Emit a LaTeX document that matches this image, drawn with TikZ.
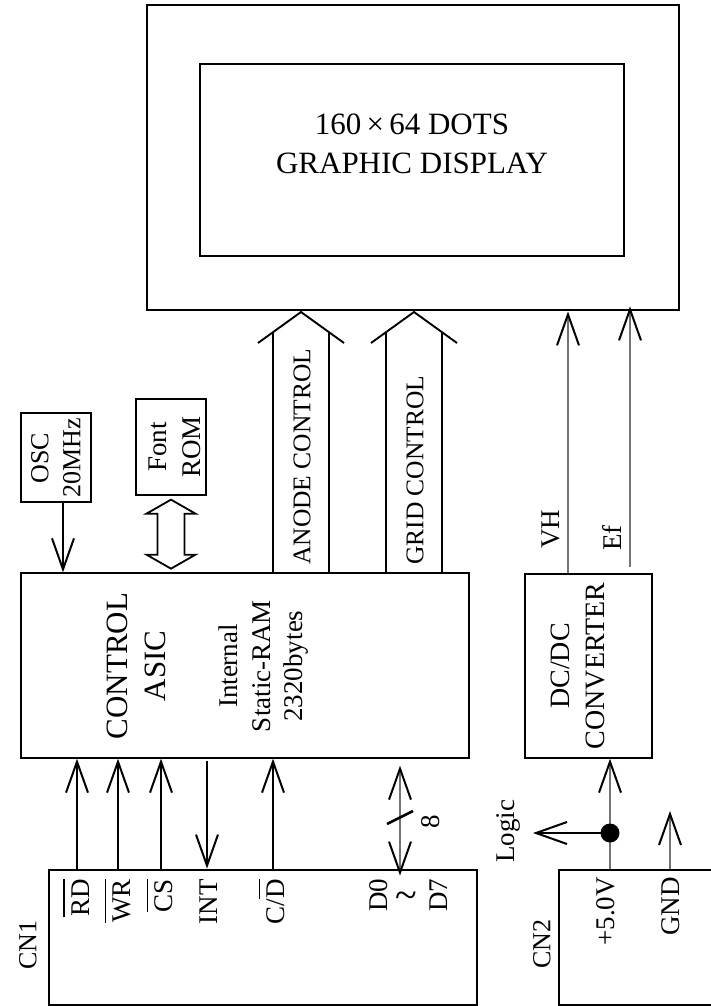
\documentclass[tikz,border=0pt]{standalone}
\usepackage{fontspec}
\setmainfont{Liberation Serif}
\usetikzlibrary{arrows.meta}
\newlength\olwid
\newcommand\olbar[1]{\settowidth{\olwid}{#1}\rlap{\rule[24.5pt]{\olwid}{1.7pt}}#1}
\begin{document}
\begin{tikzpicture}[x=1pt,y=-1pt,
  thinbox/.style={draw, line width=1.3pt, inner sep=0pt},
  midbox/.style={draw, line width=1.9pt, inner sep=0pt},
  heavybox/.style={draw, line width=2.8pt, inner sep=0pt},
  txt/.style={inner sep=0pt, align=center, font=\fontsize{27}{32}\selectfont},
  vtxt/.style={txt, rotate=90},
  tipbarb/.tip={Straight Barb[length=31pt,width=22pt,line width=2pt,color=black]},
  sig/.style={line width=1.8pt, -{tipbarb}},
  gsig/.style={line width=2.2pt, draw=black!55, -{tipbarb}},
  dbus/.style={line width=2.2pt, draw=black!55, {tipbarb}-{tipbarb}},
  busline/.style={line width=1.9pt},
  hollow/.style={line width=1.8pt, line join=miter},
]
\path[use as bounding box] (0,0) rectangle (710,1006);

% ---------- display ----------
\node[heavybox, minimum width=532pt, minimum height=305pt] (disp) at (413,157.5) {};
\node[midbox, minimum width=424pt, minimum height=192pt] (scr) at (412,160) {};
\node[txt, font=\fontsize{31}{39}\selectfont] (dtext) at (412,144) {160\,×\,64 DOTS\\GRAPHIC DISPLAY};

% ---------- control ASIC ----------
\node[thinbox, minimum width=448pt, minimum height=185pt] (asic) at (245,665.5) {};
\node[vtxt, font=\fontsize{31}{38}\selectfont] (asictxt) at (136,666) {CONTROL\\ASIC};
\node[vtxt, font=\fontsize{27}{32.5}\selectfont] (ramtxt) at (264,666) {Internal\\Static-RAM\\2320bytes};

% ---------- OSC and font ROM ----------
\node[thinbox, minimum width=70pt, minimum height=89pt] (osc) at (56,457.5) {};
\node[vtxt, font=\fontsize{26}{32}\selectfont] (osctxt) at (56,458) {OSC\\20MHz};
\node[thinbox, minimum width=70pt, minimum height=96pt] (rom) at (171,447) {};
\node[vtxt, font=\fontsize{27}{34}\selectfont] (romtxt) at (175,447) {Font\\ROM};

\draw[sig] ([xshift=7pt]osc.south) -- ([xshift=7pt]osc.south |- asic.north);
\draw[hollow] ([yshift=-4pt]rom.south) -- ++(24.5,14) -- ++(-11,0) -- ++(0,41) -- ++(11,0)
  -- ++(-24.5,14) -- ++(-24.5,-14) -- ++(11,0) -- ++(0,-41) -- ++(-11,0) -- cycle;

% ---------- anode / grid control buses ----------
\coordinate (atip) at (301,312);
\coordinate (aL) at (273,332.5);
\coordinate (aR) at (329,332.5);
\coordinate (gtip) at (414,312);
\coordinate (gL) at (386,332.5);
\coordinate (gR) at (442,332.5);
\draw[busline] (aL |- asic.north) -- (aL);
\draw[busline] (aR |- asic.north) -- (aR);
\draw[busline, line join=miter] ([shift={(-43,31)}]atip) -- (atip) -- ([shift={(43,31)}]atip);
\draw[busline] (gL |- asic.north) -- (gL);
\draw[busline] (gR |- asic.north) -- (gR);
\draw[busline, line join=miter] ([shift={(-43,31)}]gtip) -- (gtip) -- ([shift={(43,31)}]gtip);
\node[vtxt, font=\fontsize{25.5}{30}\selectfont, anchor=west] (anodetxt) at (302,565) {ANODE CONTROL};
\node[vtxt, font=\fontsize{25.5}{30}\selectfont, anchor=west] (gridtxt) at (415,565) {GRID CONTROL};

% ---------- CN1 ----------
\node[heavybox, minimum width=428pt, minimum height=135pt] (cn1) at (263,937.5) {};
\node[vtxt, font=\fontsize{26}{30}\selectfont] (cn1txt) at (28,945) {CN1};
\node[vtxt, anchor=east] (rd) at (76,879) {\olbar{RD}};
\node[vtxt, anchor=east] (wr) at (118,879) {\olbar{WR}};
\node[vtxt, anchor=east] (cs) at (160,879) {\olbar{CS}};
\node[vtxt, anchor=east] (int) at (209,879) {INT};
\node[vtxt, anchor=east] (cd) at (272,879) {C/\olbar{D}};
\node[vtxt] (d0) at (379,895) {D0};
\node[txt, font=\fontsize{40}{40}\selectfont] (tilde) at (406,900) {\textasciitilde};
\node[vtxt] (d7) at (439,895) {D7};

\coordinate (xrd) at (77,0);
\coordinate (xwr) at (118,0);
\coordinate (xcs) at (161,0);
\coordinate (xint) at (207,0);
\coordinate (xcd) at (273,0);
\coordinate (xd) at (400,0);
\draw[sig] (xrd |- cn1.north) -- (xrd |- asic.south);
\draw[sig] (xwr |- cn1.north) -- (xwr |- asic.south);
\draw[sig] (xcs |- cn1.north) -- (xcs |- asic.south);
\draw[sig] ([yshift=-2pt]xint |- asic.south) -- (xint |- cn1.north);
\draw[sig] (xcd |- cn1.north) -- (xcd |- asic.south);
\draw[dbus] ([yshift=-7pt]xd |- asic.south) -- ([yshift=-7pt]xd |- cn1.north);
\coordinate (sl1) at (387,824);
\coordinate (sl2) at (413,811);
\draw[line width=2.5pt] (sl1) -- (sl2);
\node[vtxt] (eight) at (431,822) {8};

% ---------- DC/DC converter ----------
\node[thinbox, minimum width=127pt, minimum height=184pt] (dcdc) at (588.5,666) {};
\node[vtxt, font=\fontsize{28}{35}\selectfont] (dctxt) at (577.5,666) {DC/DC\\CONVERTER};
\coordinate (xvh) at (568,0);
\coordinate (xef) at (630,0);
\draw[gsig] (xvh |- dcdc.north) -- (xvh |- disp.south);
\draw[gsig] ([yshift=6pt]xef |- dcdc.north) -- ([yshift=5pt]xef |- disp.south);
\node[vtxt] (vh) at (551,529) {VH};
\node[vtxt] (ef) at (612,538) {Ef};

% ---------- CN2 ----------
\node[heavybox, minimum width=201pt, minimum height=135pt] (cn2) at (659.5,937.5) {};
\node[vtxt, font=\fontsize{26}{30}\selectfont] (cn2txt) at (542,944) {CN2};
\node[vtxt, anchor=east] (p5) at (606,877) {+5.0V};
\node[vtxt, anchor=east] (gnd) at (671,877) {GND};
\coordinate (xp5) at (610,0);
\coordinate (dot) at (610,833);
\coordinate (logicend) at (533,833);
\coordinate (gndtip) at (670,811);
\draw[gsig] (xp5 |- cn2.north) -- (xp5 |- dcdc.south);
\fill (dot) circle (9.5pt);
\draw[sig] (dot) -- (logicend);
\node[vtxt] (logic) at (508,831) {Logic};
\draw[gsig] (gndtip |- cn2.north) -- (gndtip);
\end{tikzpicture}
\end{document}
